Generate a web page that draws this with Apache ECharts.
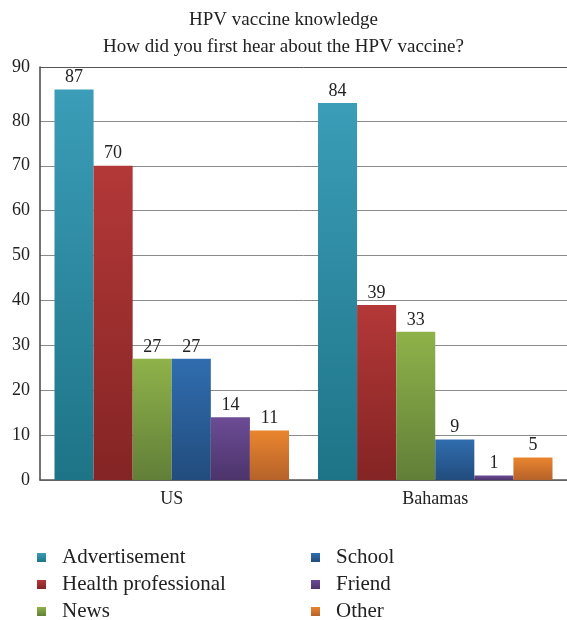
<!DOCTYPE html>
<html><head><meta charset="utf-8">
<script src="https://cdn.jsdelivr.net/npm/echarts@6/dist/echarts.min.js"></script>
<style>html,body{margin:0;padding:0;background:#fff}#c{width:567px;height:620px}</style>
</head><body><div id="c"></div>
<script>
const categories = ['US', 'Bahamas'];
const seriesNames = ['Advertisement', 'Health professional', 'News', 'School', 'Friend', 'Other'];
const advertisement = [87, 84];
const healthProfessional = [70, 39];
const news = [27, 33];
const school = [27, 9];
const friend = [14, 1];
const other = [11, 5];
const yTicks = [0, 10, 20, 30, 40, 50, 60, 70, 80, 90];
const yAxisMax = 92;

const values = [advertisement, healthProfessional, news, school, friend, other];
const gradients = [
  ['#3b9db8', '#1e7487'],
  ['#b43838', '#842424'],
  ['#8fb24a', '#627f38'],
  ['#306daf', '#224c7d'],
  ['#6c4c95', '#4c346b'],
  ['#ea852e', '#b5622a']
];
const FONT = '"Liberation Serif", "Times New Roman", serif';

const legendBase = {
  orient: 'vertical', top: 547, height: 120, padding: 0, itemGap: 6,
  itemWidth: 9, itemHeight: 9, icon: 'rect',
  textStyle: {fontFamily: FONT, fontSize: 21, color: '#222', padding: [0, 0, 0, 11]}
};

// split line colours per tick: 0..80 grey, 90 (not drawn), top (frame) dark
const splitColors = yTicks.map(v => v === 90 ? 'rgba(0,0,0,0)' : '#8a8a8a').concat(['#555']);

const chart = echarts.init(document.getElementById('c'), null, {renderer: 'canvas'});
chart.setOption({
  animation: false,
  backgroundColor: '#fff',
  title: {
    text: 'HPV vaccine knowledge\nHow did you first hear about the HPV vaccine?',
    left: 'center', top: 2,
    textStyle: {fontFamily: FONT, fontSize: 19, fontWeight: 'normal', color: '#222', lineHeight: 27}
  },
  legend: [
    Object.assign({}, legendBase, {left: 37, data: seriesNames.slice(0, 3)}),
    Object.assign({}, legendBase, {left: 311, data: seriesNames.slice(3)})
  ],
  grid: {left: 40, top: 67, width: 530, height: 413, containLabel: false},
  xAxis: {
    type: 'category', data: categories,
    axisLine: {lineStyle: {color: '#555', width: 1.5}},
    axisTick: {show: false},
    axisLabel: {fontFamily: FONT, fontSize: 18, color: '#222', margin: 10}
  },
  yAxis: {
    type: 'value', min: 0, max: yAxisMax, interval: 10,
    axisLine: {show: true, lineStyle: {color: '#444', width: 1.5}},
    axisTick: {show: false},
    axisLabel: {fontFamily: FONT, fontSize: 18, color: '#222', margin: 10, showMaxLabel: true,
      formatter: v => v === yAxisMax ? '90' : (v !== 90 && yTicks.includes(v) ? String(v) : '')},
    splitLine: {lineStyle: {color: splitColors, width: 1}}
  },
  series: seriesNames.map((name, i) => ({
    name, type: 'bar', data: values[i],
    barGap: '0%', barCategoryGap: '11%',
    itemStyle: {color: {type: 'linear', x: 0, y: 0, x2: 0, y2: 1,
      colorStops: [{offset: 0, color: gradients[i][0]}, {offset: 1, color: gradients[i][1]}]}},
    label: {show: true, position: 'top', distance: 3, fontFamily: FONT, fontSize: 18, color: '#222'}
  }))
});
</script></body></html>
